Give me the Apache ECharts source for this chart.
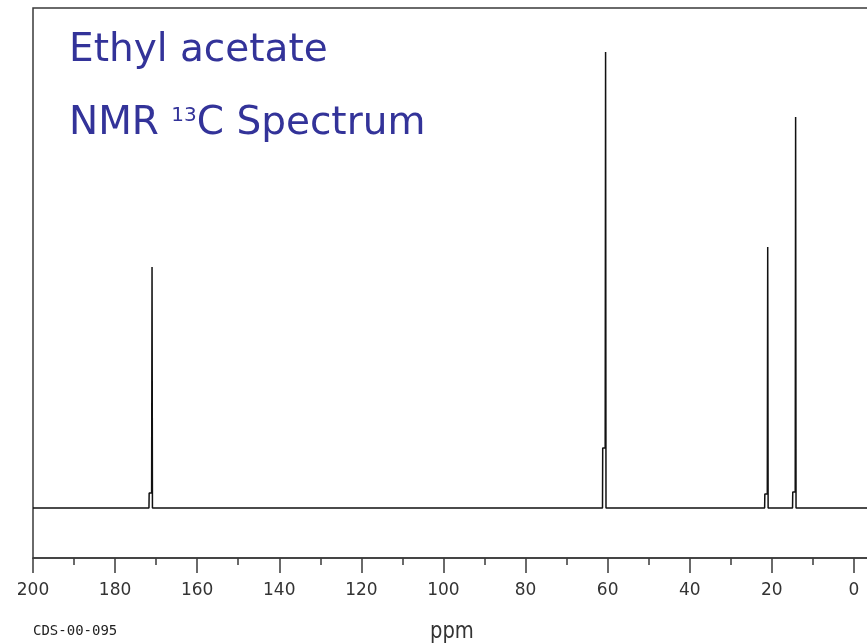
<!DOCTYPE html>
<html>
<head>
<meta charset="utf-8">
<script src="https://cdn.jsdelivr.net/npm/echarts@6/dist/echarts.min.js"></script>
<style>html,body{margin:0;padding:0;background:#fff;}#c{width:867px;height:644px;}</style>
</head>
<body>
<div id="c"></div>
<script>
// Peak positions (ppm), heights and small satellite (shoulder) heights
const peakPpm = [171.0, 60.5, 21.0, 14.2];
const peakHeight = [48.2, 91.2, 52.2, 78.2];
const shoulderHeight = [3.0, 12.0, 2.8, 3.2];
const axisTicks = [200, 180, 160, 140, 120, 100, 80, 60, 40, 20, 0];

const spectrum = [[200, 0]];
for (let i = 0; i < peakPpm.length; i++) {
  const p = peakPpm[i];
  spectrum.push([p + 0.75, 0]);
  spectrum.push([p + 0.7, shoulderHeight[i]]);
  spectrum.push([p + 0.1, shoulderHeight[i]]);
  spectrum.push([p, peakHeight[i]]);
  spectrum.push([p - 0.1, 0]);
}
spectrum.push([-20, 0]);

const tickColor = '#3a3a3a';
const chart = echarts.init(document.getElementById('c'), null, {renderer: 'canvas'});
chart.setOption({
  animation: false,
  backgroundColor: '#ffffff',
  grid: {left: 33, top: 8, right: -69, bottom: 86, show: true, borderColor: tickColor, borderWidth: 1.5,
    backgroundColor: 'transparent', outerBoundsMode: 'none', containLabel: false},
  xAxis: [{
    type: 'value', inverse: true, min: -20, max: 200, interval: 20, position: 'bottom',
    axisLine: {show: true, onZero: false, lineStyle: {color: tickColor, width: 1.5}},
    axisTick: {show: true, length: 15, lineStyle: {color: tickColor, width: 1.5}},
    axisLabel: {color: '#333', fontSize: 17, fontFamily: 'DejaVu Sans', margin: 24, hideOverlap: false,
      formatter: v => axisTicks.indexOf(v) >= 0 ? String(v) : ''},
    splitLine: {show: false}
  }, {
    type: 'value', inverse: true, min: -20, max: 200, interval: 10, position: 'bottom', offset: 0,
    axisLine: {show: false, onZero: false},
    axisTick: {show: true, length: 7, lineStyle: {color: tickColor, width: 1.5}},
    axisLabel: {show: false},
    splitLine: {show: false}
  }],
  yAxis: {type: 'value', min: -10, max: 100, show: false, splitLine: {show: false}},
  series: [{
    type: 'line', data: spectrum, showSymbol: false, symbol: 'none', xAxisIndex: 0,
    lineStyle: {color: '#111', width: 1.5}, silent: true
  }],
  graphic: [
    {type: 'text', left: 69, top: 31, style: {text: 'Ethyl acetate', fill: '#333399', font: '39px "DejaVu Sans"'}},
    {type: 'text', left: 69, top: 99, style: {
      text: '{a|NMR }{s|13}{a|C Spectrum}', fill: '#333399',
      rich: {
        a: {fontSize: 39, fontFamily: 'DejaVu Sans', fill: '#333399', lineHeight: 44, verticalAlign: 'bottom'},
        s: {fontSize: 20, fontFamily: 'DejaVu Sans', fill: '#333399', lineHeight: 30, verticalAlign: 'top', padding: [7, 0, 0, 0]}
      }}},
    {type: 'text', left: 430, top: 621, scaleX: 0.85, style: {text: 'ppm', fill: '#333', font: '23px "DejaVu Sans"'}},
    {type: 'text', left: 33, top: 624, style: {text: 'CDS-00-095', fill: '#222', font: '14px "DejaVu Sans Mono"'}}
  ]
});
</script>
</body>
</html>
